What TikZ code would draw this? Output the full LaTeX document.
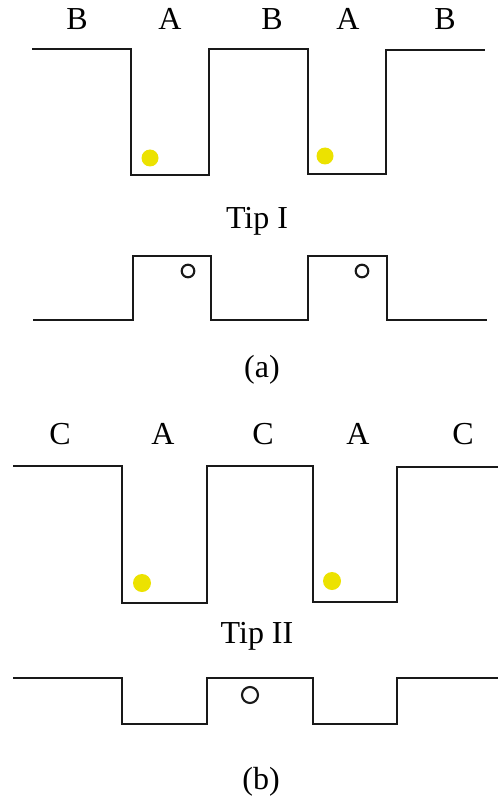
\documentclass[tikz,border=0pt]{standalone}
\usepackage{fontspec}
\setmainfont{Liberation Serif}
\definecolor{dotyellow}{RGB}{236,226,0}
\begin{document}
\begin{tikzpicture}[x=1pt,y=-1pt,
  prof/.style={line width=2.6pt,line join=miter,black!90},
  lbl/.style={anchor=base,inner sep=0pt,font=\fontsize{32}{38}\selectfont},
  ydot/.style={fill=dotyellow,draw=none},
  hole/.style={draw=black!90,line width=2.1pt,fill=white}]
\useasboundingbox (0,0) rectangle (498,805);
% ---------- (a) ----------
\node[lbl] (b1) at (77,30) {B};
\node[lbl] (a1) at (170,30) {A};
\node[lbl] (b2) at (272,30) {B};
\node[lbl] (a2) at (348,30) {A};
\node[lbl] (b3) at (445,30) {B};
\draw[prof] (32,49) -- (131,49) -- (131,175) -- (209,175) -- (209,49) -- (308,49) -- (308,174) -- (386,174) -- (386,50) -- (485,50);
\fill[ydot] (150,158) circle (8.5);
\fill[ydot] (325,156) circle (8.5);
\node[lbl] (tip1) at (257,228) {Tip I};
\draw[prof] (33,320) -- (133,320) -- (133,256) -- (211,256) -- (211,320) -- (308,320) -- (308,256) -- (387,256) -- (387,320) -- (487,320);
\draw[hole] (188,271) circle (6.3);
\draw[hole] (362,271) circle (6.3);
\node[lbl] (capa) at (262,377) {(a)};
% ---------- (b) ----------
\node[lbl] (c1) at (60,444) {C};
\node[lbl] (a3) at (163,444) {A};
\node[lbl] (c2) at (263,444) {C};
\node[lbl] (a4) at (358,444) {A};
\node[lbl] (c3) at (463,444) {C};
\draw[prof] (13,466) -- (122,466) -- (122,603) -- (207,603) -- (207,466) -- (313,466) -- (313,602) -- (397,602) -- (397,467) -- (498,467);
\fill[ydot] (142,583) circle (9);
\fill[ydot] (332,581) circle (9);
\node[lbl] (tip2) at (257,643) {Tip II};
\draw[prof] (13,678) -- (122,678) -- (122,724) -- (207,724) -- (207,678) -- (313,678) -- (313,724) -- (397,724) -- (397,678) -- (498,678);
\draw[hole] (250,695) circle (8);
\node[lbl] (capb) at (261,789) {(b)};
\end{tikzpicture}
\end{document}
